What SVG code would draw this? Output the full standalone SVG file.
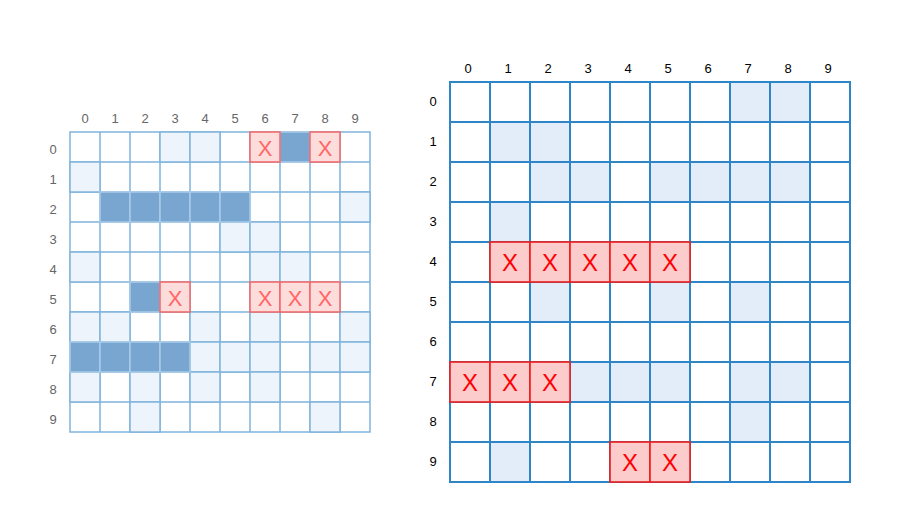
<svg xmlns="http://www.w3.org/2000/svg" width="897" height="515" viewBox="0 0 897 515">
<style>
.lc{fill:#fff;stroke:#80b4dc;stroke-width:1.5}
.ll{fill:#eef4fc;stroke:#80b4dc;stroke-width:1.5}
.ld{fill:#78a6d0;stroke:#a9cbe9;stroke-width:1.5}
.lx{fill:#fddcdc;stroke:#f26666;stroke-width:1.5}
.lt{font-family:"Liberation Sans",Arial,sans-serif;font-size:13px;fill:#666;text-anchor:middle}
.lxt{font-family:"Liberation Sans",Arial,sans-serif;font-size:22px;fill:#f66;text-anchor:middle}
.rc{fill:#fff;stroke:#2e86c8;stroke-width:2}
.rl{fill:#e3edf9;stroke:#2e86c8;stroke-width:2}
.rx{fill:#fccccc;stroke:#ee1c1c;stroke-width:1.6}
.rt{font-family:"Liberation Sans",Arial,sans-serif;font-size:13px;fill:#000;text-anchor:middle}
.rxt{font-family:"Liberation Sans",Arial,sans-serif;font-size:24px;fill:#f00;text-anchor:middle}
</style>
<rect width="897" height="515" fill="#fff"/>
<g id="left-grid">
<g id="left-base">
<rect class="lc" x="70" y="132" width="300" height="300"/>
<path d="M100 132V432M130 132V432M160 132V432M190 132V432M220 132V432M250 132V432M280 132V432M310 132V432M340 132V432M70 162H370M70 192H370M70 222H370M70 252H370M70 282H370M70 312H370M70 342H370M70 372H370M70 402H370" stroke="#80b4dc" stroke-width="1.5" fill="none"/>
</g>
<g id="left-light">
<rect class="ll" x="160" y="132" width="30" height="30"/><rect class="ll" x="190" y="132" width="30" height="30"/>
<rect class="ll" x="70" y="162" width="30" height="30"/>
<rect class="ll" x="340" y="192" width="30" height="30"/>
<rect class="ll" x="220" y="222" width="30" height="30"/><rect class="ll" x="250" y="222" width="30" height="30"/>
<rect class="ll" x="70" y="252" width="30" height="30"/><rect class="ll" x="250" y="252" width="30" height="30"/><rect class="ll" x="280" y="252" width="30" height="30"/>
<rect class="ll" x="70" y="312" width="30" height="30"/><rect class="ll" x="100" y="312" width="30" height="30"/><rect class="ll" x="190" y="312" width="30" height="30"/><rect class="ll" x="250" y="312" width="30" height="30"/><rect class="ll" x="340" y="312" width="30" height="30"/>
<rect class="ll" x="190" y="342" width="30" height="30"/><rect class="ll" x="220" y="342" width="30" height="30"/><rect class="ll" x="250" y="342" width="30" height="30"/><rect class="ll" x="310" y="342" width="30" height="30"/><rect class="ll" x="340" y="342" width="30" height="30"/>
<rect class="ll" x="70" y="372" width="30" height="30"/><rect class="ll" x="130" y="372" width="30" height="30"/><rect class="ll" x="190" y="372" width="30" height="30"/><rect class="ll" x="250" y="372" width="30" height="30"/>
<rect class="ll" x="130" y="402" width="30" height="30"/><rect class="ll" x="310" y="402" width="30" height="30"/>
</g>
<g id="left-dark">
<rect class="ld" x="280" y="132" width="30" height="30"/>
<rect class="ld" x="100" y="192" width="30" height="30"/><rect class="ld" x="130" y="192" width="30" height="30"/><rect class="ld" x="160" y="192" width="30" height="30"/><rect class="ld" x="190" y="192" width="30" height="30"/><rect class="ld" x="220" y="192" width="30" height="30"/>
<rect class="ld" x="130" y="282" width="30" height="30"/>
<rect class="ld" x="70" y="342" width="30" height="30"/><rect class="ld" x="100" y="342" width="30" height="30"/><rect class="ld" x="130" y="342" width="30" height="30"/><rect class="ld" x="160" y="342" width="30" height="30"/>
</g>
<g id="left-x">
<rect class="lx" x="250" y="132" width="30" height="30"/><text class="lxt" x="265" y="156">X</text>
<rect class="lx" x="310" y="132" width="30" height="30"/><text class="lxt" x="325" y="156">X</text>
<rect class="lx" x="160" y="282" width="30" height="30"/><text class="lxt" x="175" y="306">X</text>
<rect class="lx" x="250" y="282" width="30" height="30"/><text class="lxt" x="265" y="306">X</text>
<rect class="lx" x="280" y="282" width="30" height="30"/><text class="lxt" x="295" y="306">X</text>
<rect class="lx" x="310" y="282" width="30" height="30"/><text class="lxt" x="325" y="306">X</text>
</g>
<g id="left-labels">
<text class="lt" x="85" y="123">0</text><text class="lt" x="115" y="123">1</text><text class="lt" x="145" y="123">2</text><text class="lt" x="175" y="123">3</text><text class="lt" x="205" y="123">4</text><text class="lt" x="235" y="123">5</text><text class="lt" x="265" y="123">6</text><text class="lt" x="295" y="123">7</text><text class="lt" x="325" y="123">8</text><text class="lt" x="355" y="123">9</text>
<text class="lt" x="53" y="154">0</text><text class="lt" x="53" y="184">1</text><text class="lt" x="53" y="214">2</text><text class="lt" x="53" y="244">3</text><text class="lt" x="53" y="274">4</text><text class="lt" x="53" y="304">5</text><text class="lt" x="53" y="334">6</text><text class="lt" x="53" y="364">7</text><text class="lt" x="53" y="394">8</text><text class="lt" x="53" y="424">9</text>
</g>
</g>
<g id="right-grid">
<g id="right-base">
<rect class="rc" x="450" y="82" width="400" height="400"/>
<path d="M490 82V482M530 82V482M570 82V482M610 82V482M650 82V482M690 82V482M730 82V482M770 82V482M810 82V482M450 122H850M450 162H850M450 202H850M450 242H850M450 282H850M450 322H850M450 362H850M450 402H850M450 442H850" stroke="#2e86c8" stroke-width="2" fill="none"/>
</g>
<g id="right-light">
<rect class="rl" x="730" y="82" width="40" height="40"/><rect class="rl" x="770" y="82" width="40" height="40"/>
<rect class="rl" x="490" y="122" width="40" height="40"/><rect class="rl" x="530" y="122" width="40" height="40"/>
<rect class="rl" x="530" y="162" width="40" height="40"/><rect class="rl" x="570" y="162" width="40" height="40"/><rect class="rl" x="650" y="162" width="40" height="40"/><rect class="rl" x="690" y="162" width="40" height="40"/><rect class="rl" x="730" y="162" width="40" height="40"/><rect class="rl" x="770" y="162" width="40" height="40"/>
<rect class="rl" x="490" y="202" width="40" height="40"/>
<rect class="rl" x="530" y="282" width="40" height="40"/><rect class="rl" x="650" y="282" width="40" height="40"/><rect class="rl" x="730" y="282" width="40" height="40"/>
<rect class="rl" x="570" y="362" width="40" height="40"/><rect class="rl" x="610" y="362" width="40" height="40"/><rect class="rl" x="650" y="362" width="40" height="40"/><rect class="rl" x="730" y="362" width="40" height="40"/><rect class="rl" x="770" y="362" width="40" height="40"/>
<rect class="rl" x="730" y="402" width="40" height="40"/>
<rect class="rl" x="490" y="442" width="40" height="40"/>
</g>
<g id="right-x">
<rect class="rx" x="490" y="242" width="40" height="40"/><text class="rxt" x="510" y="271">X</text>
<rect class="rx" x="530" y="242" width="40" height="40"/><text class="rxt" x="550" y="271">X</text>
<rect class="rx" x="570" y="242" width="40" height="40"/><text class="rxt" x="590" y="271">X</text>
<rect class="rx" x="610" y="242" width="40" height="40"/><text class="rxt" x="630" y="271">X</text>
<rect class="rx" x="650" y="242" width="40" height="40"/><text class="rxt" x="670" y="271">X</text>
<rect class="rx" x="450" y="362" width="40" height="40"/><text class="rxt" x="470" y="391">X</text>
<rect class="rx" x="490" y="362" width="40" height="40"/><text class="rxt" x="510" y="391">X</text>
<rect class="rx" x="530" y="362" width="40" height="40"/><text class="rxt" x="550" y="391">X</text>
<rect class="rx" x="610" y="442" width="40" height="40"/><text class="rxt" x="630" y="471">X</text>
<rect class="rx" x="650" y="442" width="40" height="40"/><text class="rxt" x="670" y="471">X</text>
</g>
<g id="right-labels">
<text class="rt" x="468" y="73">0</text><text class="rt" x="508" y="73">1</text><text class="rt" x="548" y="73">2</text><text class="rt" x="588" y="73">3</text><text class="rt" x="628" y="73">4</text><text class="rt" x="668" y="73">5</text><text class="rt" x="708" y="73">6</text><text class="rt" x="748" y="73">7</text><text class="rt" x="788" y="73">8</text><text class="rt" x="828" y="73">9</text>
<text class="rt" x="433" y="106">0</text><text class="rt" x="433" y="146">1</text><text class="rt" x="433" y="186">2</text><text class="rt" x="433" y="226">3</text><text class="rt" x="433" y="266">4</text><text class="rt" x="433" y="306">5</text><text class="rt" x="433" y="346">6</text><text class="rt" x="433" y="386">7</text><text class="rt" x="433" y="426">8</text><text class="rt" x="433" y="466">9</text>
</g>
</g>
</svg>
